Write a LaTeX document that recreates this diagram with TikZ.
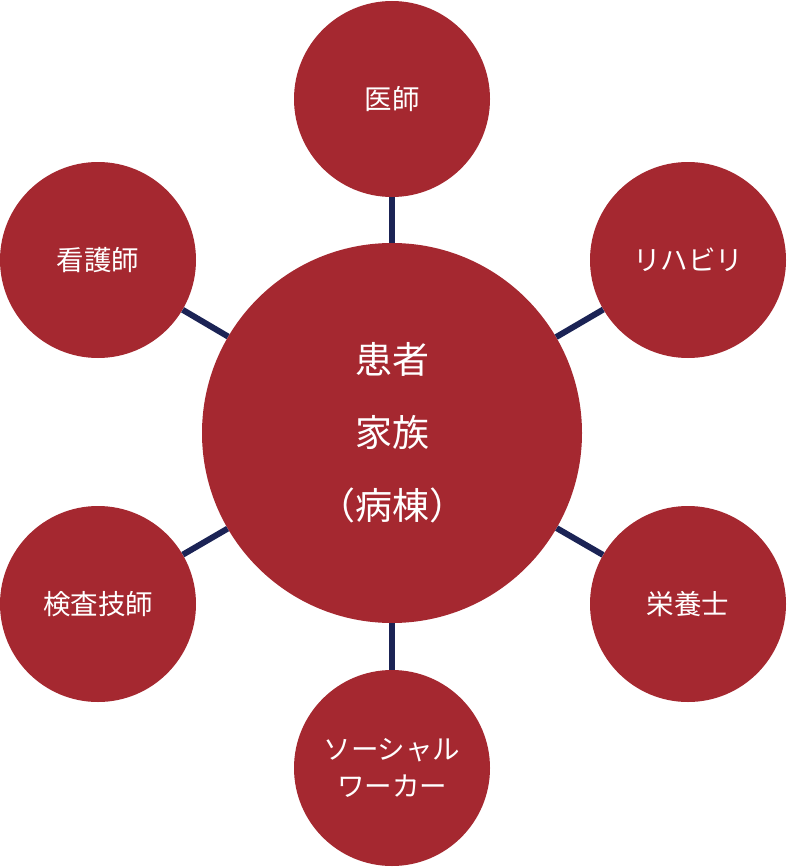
\documentclass[tikz,border=0pt]{standalone}
\usepackage{fontspec}
\newfontfamily\jp{Noto Sans CJK JP}
\definecolor{cred}{HTML}{A52830}
\definecolor{cnavy}{HTML}{1B2355}
\begin{document}
\begin{tikzpicture}[x=1pt,y=-1pt,
  bubble/.style={circle,fill=cred,draw=none,text=white,inner sep=0pt,align=center,font=\jp\fontsize{27.5}{37}\selectfont},
  hub/.style={bubble,minimum size=380pt,font=\jp\fontsize{37}{73}\selectfont},
  spoke/.style={bubble,minimum size=196pt},
  link/.style={draw=cnavy,line width=6pt}]
\useasboundingbox (0,0) rectangle (788,867);
\node[hub] (c) at (392,433) {\raisebox{-3pt}{\parbox{6cm}{\centering 患者\\家族\\（病棟）}}};
\node[spoke] (t) at (392,99) {医師};
\node[spoke] (rt) at (688,260) {リハビリ};
\node[spoke] (lt) at (98,260) {看護師};
\node[spoke] (lb) at (98,604) {検査技師};
\node[spoke] (rb) at (688,604) {栄養士};
\node[spoke] (b) at (392,768) {ソーシャル\\ワーカー};
\foreach \o in {t,rt,lt,lb,rb,b}{\draw[link] (c) -- (\o);}
\end{tikzpicture}
\end{document}
